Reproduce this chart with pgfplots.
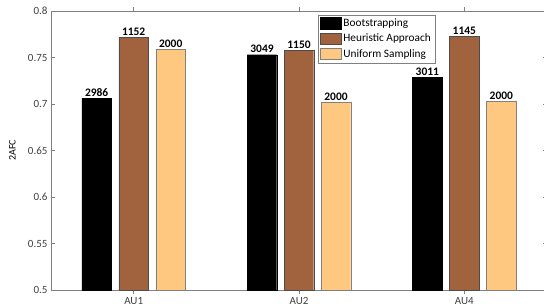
\documentclass[border=0pt]{standalone}
\usepackage{pgfplots}
\pgfplotsset{compat=1.18}
\usepackage{fontspec}
\setmainfont{Carlito}
\definecolor{cbrown}{RGB}{160,99,62}
\definecolor{clight}{RGB}{255,200,128}
\definecolor{axgray}{RGB}{128,128,128}
\definecolor{txtgray}{RGB}{64,64,64}
\begin{document}
\begin{tikzpicture}[x=1pt,y=1pt]
\useasboundingbox (-51,-16) rectangle (493,290);
\begin{axis}[
  at={(0,0)}, anchor=south west,
  scale only axis, width=496pt, height=279pt,
  xmin=0.5, xmax=3.5, ymin=0.5, ymax=0.8,
  xtick={1,2,3}, xticklabels={AU1,AU2,AU4},
  ytick={0.5,0.55,...,0.8},
  yticklabel style={/pgf/number format/fixed,/pgf/number format/precision=2},
  /pgf/number format/assume math mode=true,
  tick label style={font=\fontsize{11}{13}\selectfont, text=txtgray},
  ylabel={2AFC}, ylabel style={font=\fontsize{9.5}{11}\selectfont, text=txtgray},
  every axis y label/.style={at={(axis description cs:-0.078,0.5)}, rotate=90, anchor=center},
  axis line style={axgray},
  tick style={axgray, thin},
  major tick length=4pt,
  tick align=inside,
  ybar=7.5pt, bar width=29.5pt,
  nodes near coords,
  point meta=explicit symbolic,
  every node near coord/.append style={font=\bfseries\fontsize{11.5}{13}\selectfont, black, inner sep=1.5pt},
  legend style={at={(axis description cs:0.538,0.987)}, anchor=north west,
    draw=axgray, font=\fontsize{11.3}{13}\selectfont, inner sep=2pt, row sep=2pt,
    legend cell align=left},
  legend image code/.code={\draw[#1] (0pt,-5.5pt) rectangle (21pt,6pt);},
]
\addplot[fill=black, draw=black] coordinates {(1,0.706)[2986] (2,0.753)[3049] (3,0.729)[3011]};
\addplot[fill=cbrown, draw=black!70] coordinates {(1,0.772)[1152] (2,0.758)[1150] (3,0.773)[1145]};
\addplot[fill=clight, draw=black!50] coordinates {(1,0.759)[2000] (2,0.702)[2000] (3,0.703)[2000]};
\legend{Bootstrapping, Heuristic Approach, Uniform Sampling}
\end{axis}
\end{tikzpicture}
\end{document}
